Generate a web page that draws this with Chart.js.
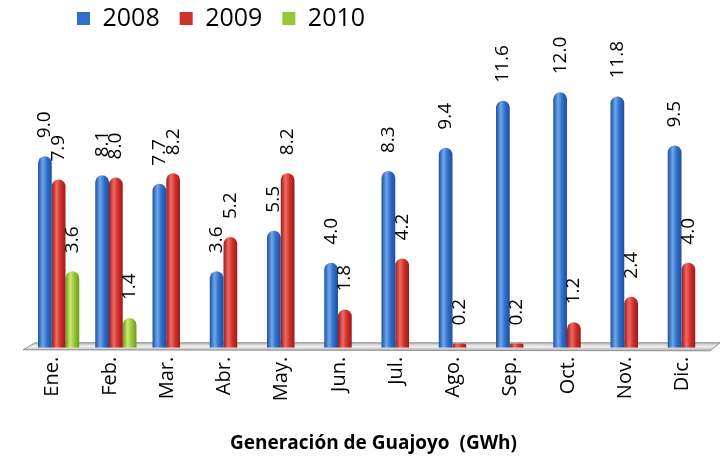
<!DOCTYPE html>
<html>
<head>
<meta charset="utf-8">
<script src="https://cdn.jsdelivr.net/npm/chart.js@4.4.1/dist/chart.umd.min.js"></script>
<style>
html,body{margin:0;padding:0;background:#fff}
#wrap{width:721px;height:458px}
</style>
</head>
<body>
<div id="wrap"><canvas id="c"></canvas></div>
<script>

const months=["Ene.","Feb.","Mar.","Abr.","May.","Jun.","Jul.","Ago.","Sep.","Oct.","Nov.","Dic."]
const years=["2008","2009","2010"]

const gen2008=[9.0,8.1,7.7,3.6,5.5,4.0,8.3,9.4,11.6,12.0,11.8,9.5]
const gen2009=[7.9,8.0,8.2,5.2,8.2,1.8,4.2,0.2,0.2,1.2,2.4,4.0]
const gen2010=[3.6,1.4,null,null,null,null,null,null,null,null,null,null]

const titleText="Generación de Guajoyo  (GWh)"

/* colours for the cylinders: edge, light, mid */
const shades=[
["#1d4f9c","#6fa6ec","#2f6fcb"],
["#9b1a18","#ee6a62","#d0302b"],
["#6c9a1c","#c8ea72","#98c637"]
]

const FONT="'Open Sans', 'DejaVu Sans', sans-serif"

/* floor slab + cylinder gradients */
const floorPlugin={
id:"floor",
beforeDatasetsDraw(chart){
const ctx=chart.ctx
const a=chart.chartArea
const b=a.bottom
ctx.save()
ctx.beginPath()
ctx.moveTo(a.left+5,b-5)
ctx.lineTo(a.right+3,b-5)
ctx.lineTo(a.right-7,b+3)
ctx.lineTo(a.left-7,b+2)
ctx.closePath()
let g=ctx.createLinearGradient(0,b-5,0,b+3)
g.addColorStop(0,"#bdbdbd")
g.addColorStop(0.5,"#f2f2f2")
g.addColorStop(1,"#a8a8a8")
ctx.fillStyle=g
ctx.fill()
ctx.strokeStyle="#909090"
ctx.lineWidth=1
ctx.stroke()
ctx.restore()

chart.data.datasets.forEach((ds,i)=>{
const meta=chart.getDatasetMeta(i)
const s=shades[i]
meta.data.forEach(el=>{
if(el.x==null||isNaN(el.x))return
const x0=el.x-el.width/2, x1=el.x+el.width/2
const gr=ctx.createLinearGradient(x0,0,x1,0)
gr.addColorStop(0,s[0])
gr.addColorStop(0.35,s[1])
gr.addColorStop(0.65,s[2])
gr.addColorStop(1,s[0])
el.options=Object.assign({},el.options,{backgroundColor:gr})
})
})
}
}

/* rotated value labels */
const valuePlugin={
id:"values",
afterDatasetsDraw(chart){
const ctx=chart.ctx
ctx.save()
ctx.fillStyle="#000"
ctx.font="19px "+FONT
ctx.textAlign="left"
ctx.textBaseline="middle"
chart.data.datasets.forEach((ds,i)=>{
const meta=chart.getDatasetMeta(i)
meta.data.forEach((el,j)=>{
const v=ds.data[j]
if(v==null)return
ctx.save()
ctx.translate(el.x,el.y-18)
ctx.rotate(-Math.PI/2)
ctx.fillText(v.toFixed(1),0,0)
ctx.restore()
})
})
ctx.restore()
}
}

/* legend sits left and high like the original */
const legendShift={
id:"legendShift",
afterLayout(chart){
chart.legend.left=57
chart.legend.top=-14
}
}

const allData=[gen2008,gen2009,gen2010]

new Chart(document.getElementById("c"),{

type:"bar",

data:{
labels:months,
datasets:years.map((y,i)=>({
label:y,
data:allData[i],
backgroundColor:shades[i][2],
borderWidth:0,
borderRadius:{topLeft:7,topRight:7,bottomLeft:0,bottomRight:0},
borderSkipped:false,
categoryPercentage:0.72,
barPercentage:1.0
}))
},

options:{
responsive:true,
maintainAspectRatio:false,
animation:false,
layout:{padding:{left:30,right:4,top:0,bottom:0}},
plugins:{
legend:{
position:"top",
align:"start",
labels:{
font:{family:FONT,size:25},
color:"#000",
boxWidth:13,
boxHeight:13,
padding:20
}
},
title:{
display:true,
position:"bottom",
text:titleText,
font:{family:FONT,size:19,weight:"bold"},
color:"#000",
padding:{top:30,bottom:3}
},
tooltip:{enabled:false}
},

scales:{
x:{
grid:{display:false},
border:{display:false},
ticks:{
color:"#000",
font:{family:FONT,size:20},
minRotation:90,
maxRotation:90,
padding:1,
labelOffset:-6
}
},
y:{
display:false,
min:0,
max:13.75
}
}

},

plugins:[floorPlugin,valuePlugin,legendShift]

})

</script>
</body>
</html>
